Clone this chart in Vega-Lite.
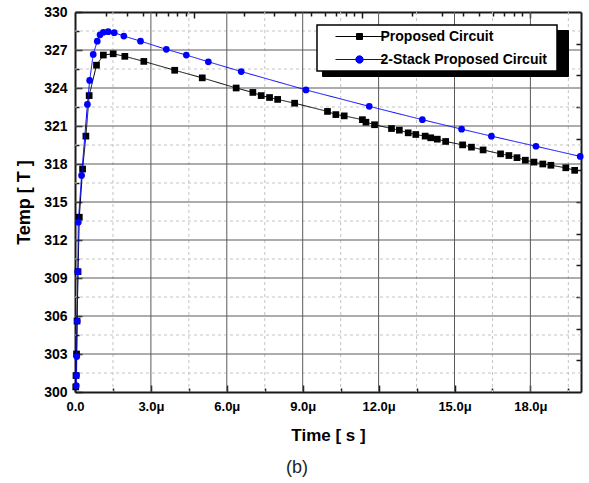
{
  "$schema": "https://vega.github.io/schema/vega-lite/v6.json",
  "width": 506,
  "height": 380,
  "autosize": {"type": "none"},
  "padding": {"left": 75, "top": 12, "right": 8, "bottom": 91},
  "background": "white",
  "config": {
    "view": {"stroke": null},
    "font": "Liberation Sans",
    "axis": {"labelColor": "#000000", "titleColor": "#000000", "tickColor": "#1a1a1a", "domainColor": "#1a1a1a", "domainWidth": 2, "tickWidth": 1.5, "labelFlush": false, "grid": false}
  },
  "title": {"text": "(b)", "orient": "bottom", "anchor": "middle", "dx": -31, "offset": 16, "fontSize": 18, "fontWeight": "normal", "font": "Liberation Sans", "color": "#222222"},
  "datasets": {
    "gridlines": [
      {"axis": "x", "v": 1.5, "kind": "minor"}, {"axis": "x", "v": 3, "kind": "major"}, {"axis": "x", "v": 4.5, "kind": "minor"},
      {"axis": "x", "v": 6, "kind": "major"}, {"axis": "x", "v": 7.5, "kind": "minor"}, {"axis": "x", "v": 9, "kind": "major"},
      {"axis": "x", "v": 10.5, "kind": "minor"}, {"axis": "x", "v": 12, "kind": "major"}, {"axis": "x", "v": 13.5, "kind": "minor"},
      {"axis": "x", "v": 15, "kind": "major"}, {"axis": "x", "v": 16.5, "kind": "minor"}, {"axis": "x", "v": 18, "kind": "major"},
      {"axis": "x", "v": 19.5, "kind": "minor"},
      {"axis": "y", "v": 301.5, "kind": "minor"}, {"axis": "y", "v": 303, "kind": "major"}, {"axis": "y", "v": 304.5, "kind": "minor"},
      {"axis": "y", "v": 306, "kind": "major"}, {"axis": "y", "v": 307.5, "kind": "minor"}, {"axis": "y", "v": 309, "kind": "major"},
      {"axis": "y", "v": 310.5, "kind": "minor"}, {"axis": "y", "v": 312, "kind": "major"}, {"axis": "y", "v": 313.5, "kind": "minor"},
      {"axis": "y", "v": 315, "kind": "major"}, {"axis": "y", "v": 316.5, "kind": "minor"}, {"axis": "y", "v": 318, "kind": "major"},
      {"axis": "y", "v": 319.5, "kind": "minor"}, {"axis": "y", "v": 321, "kind": "major"}, {"axis": "y", "v": 322.5, "kind": "minor"},
      {"axis": "y", "v": 324, "kind": "major"}, {"axis": "y", "v": 325.5, "kind": "minor"}, {"axis": "y", "v": 327, "kind": "major"},
      {"axis": "y", "v": 328.5, "kind": "minor"}
    ],
    "curves": [
      {"series": "Proposed Circuit", "t": 0.03, "temp": 300.4},
      {"series": "Proposed Circuit", "t": 0.04, "temp": 301.3},
      {"series": "Proposed Circuit", "t": 0.06, "temp": 303.0},
      {"series": "Proposed Circuit", "t": 0.08, "temp": 305.6},
      {"series": "Proposed Circuit", "t": 0.12, "temp": 309.5},
      {"series": "Proposed Circuit", "t": 0.17, "temp": 313.8},
      {"series": "Proposed Circuit", "t": 0.30, "temp": 317.6},
      {"series": "Proposed Circuit", "t": 0.43, "temp": 320.2},
      {"series": "Proposed Circuit", "t": 0.56, "temp": 323.4},
      {"series": "Proposed Circuit", "t": 0.85, "temp": 325.8},
      {"series": "Proposed Circuit", "t": 1.12, "temp": 326.6},
      {"series": "Proposed Circuit", "t": 1.51, "temp": 326.7},
      {"series": "Proposed Circuit", "t": 1.97, "temp": 326.5},
      {"series": "Proposed Circuit", "t": 2.72, "temp": 326.1},
      {"series": "Proposed Circuit", "t": 3.94, "temp": 325.4},
      {"series": "Proposed Circuit", "t": 5.03, "temp": 324.8},
      {"series": "Proposed Circuit", "t": 6.37, "temp": 324.0},
      {"series": "Proposed Circuit", "t": 7.03, "temp": 323.65},
      {"series": "Proposed Circuit", "t": 7.36, "temp": 323.4},
      {"series": "Proposed Circuit", "t": 7.69, "temp": 323.25},
      {"series": "Proposed Circuit", "t": 8.01, "temp": 323.1},
      {"series": "Proposed Circuit", "t": 8.68, "temp": 322.8},
      {"series": "Proposed Circuit", "t": 9.98, "temp": 322.15},
      {"series": "Proposed Circuit", "t": 10.31, "temp": 321.9},
      {"series": "Proposed Circuit", "t": 10.64, "temp": 321.8},
      {"series": "Proposed Circuit", "t": 11.36, "temp": 321.5},
      {"series": "Proposed Circuit", "t": 11.50, "temp": 321.3},
      {"series": "Proposed Circuit", "t": 11.84, "temp": 321.1},
      {"series": "Proposed Circuit", "t": 12.51, "temp": 320.8},
      {"series": "Proposed Circuit", "t": 12.82, "temp": 320.67},
      {"series": "Proposed Circuit", "t": 13.17, "temp": 320.46},
      {"series": "Proposed Circuit", "t": 13.47, "temp": 320.33},
      {"series": "Proposed Circuit", "t": 13.84, "temp": 320.2},
      {"series": "Proposed Circuit", "t": 14.06, "temp": 320.07},
      {"series": "Proposed Circuit", "t": 14.32, "temp": 319.96},
      {"series": "Proposed Circuit", "t": 14.65, "temp": 319.78},
      {"series": "Proposed Circuit", "t": 15.32, "temp": 319.51},
      {"series": "Proposed Circuit", "t": 15.67, "temp": 319.33},
      {"series": "Proposed Circuit", "t": 16.13, "temp": 319.11},
      {"series": "Proposed Circuit", "t": 16.82, "temp": 318.8},
      {"series": "Proposed Circuit", "t": 17.15, "temp": 318.67},
      {"series": "Proposed Circuit", "t": 17.47, "temp": 318.5},
      {"series": "Proposed Circuit", "t": 17.80, "temp": 318.3},
      {"series": "Proposed Circuit", "t": 18.14, "temp": 318.15},
      {"series": "Proposed Circuit", "t": 18.49, "temp": 318.0},
      {"series": "Proposed Circuit", "t": 18.81, "temp": 317.9},
      {"series": "Proposed Circuit", "t": 19.40, "temp": 317.7},
      {"series": "Proposed Circuit", "t": 19.75, "temp": 317.5},
      {"series": "2-Stack Proposed Circuit", "t": 0.05, "temp": 300.5},
      {"series": "2-Stack Proposed Circuit", "t": 0.06, "temp": 301.3},
      {"series": "2-Stack Proposed Circuit", "t": 0.07, "temp": 302.8},
      {"series": "2-Stack Proposed Circuit", "t": 0.09, "temp": 305.6},
      {"series": "2-Stack Proposed Circuit", "t": 0.11, "temp": 309.5},
      {"series": "2-Stack Proposed Circuit", "t": 0.13, "temp": 313.4},
      {"series": "2-Stack Proposed Circuit", "t": 0.26, "temp": 317.1},
      {"series": "2-Stack Proposed Circuit", "t": 0.49, "temp": 322.7},
      {"series": "2-Stack Proposed Circuit", "t": 0.58, "temp": 324.6},
      {"series": "2-Stack Proposed Circuit", "t": 0.72, "temp": 326.65},
      {"series": "2-Stack Proposed Circuit", "t": 0.88, "temp": 327.7},
      {"series": "2-Stack Proposed Circuit", "t": 0.99, "temp": 328.2},
      {"series": "2-Stack Proposed Circuit", "t": 1.12, "temp": 328.4},
      {"series": "2-Stack Proposed Circuit", "t": 1.31, "temp": 328.45},
      {"series": "2-Stack Proposed Circuit", "t": 1.55, "temp": 328.37},
      {"series": "2-Stack Proposed Circuit", "t": 1.93, "temp": 328.1},
      {"series": "2-Stack Proposed Circuit", "t": 2.59, "temp": 327.7},
      {"series": "2-Stack Proposed Circuit", "t": 3.61, "temp": 327.05},
      {"series": "2-Stack Proposed Circuit", "t": 4.40, "temp": 326.6},
      {"series": "2-Stack Proposed Circuit", "t": 5.27, "temp": 326.07},
      {"series": "2-Stack Proposed Circuit", "t": 6.57, "temp": 325.3},
      {"series": "2-Stack Proposed Circuit", "t": 9.13, "temp": 323.85},
      {"series": "2-Stack Proposed Circuit", "t": 11.63, "temp": 322.55},
      {"series": "2-Stack Proposed Circuit", "t": 13.73, "temp": 321.5},
      {"series": "2-Stack Proposed Circuit", "t": 15.28, "temp": 320.75},
      {"series": "2-Stack Proposed Circuit", "t": 16.46, "temp": 320.2},
      {"series": "2-Stack Proposed Circuit", "t": 18.22, "temp": 319.4},
      {"series": "2-Stack Proposed Circuit", "t": 19.97, "temp": 318.6}
    ]
  },
  "layer": [
    {
      "data": {"name": "gridlines"},
      "transform": [{"filter": "datum.axis === 'x' && datum.kind === 'minor'"}],
      "mark": {"type": "rule", "strokeWidth": 1, "color": "#c4c4c4", "strokeDash": [3, 3]},
      "encoding": {
        "x": {"field": "v", "type": "quantitative", "axis": null}
      }
    },
    {
      "data": {"name": "gridlines"},
      "transform": [{"filter": "datum.axis === 'y' && datum.kind === 'minor'"}],
      "mark": {"type": "rule", "strokeWidth": 1, "color": "#c4c4c4", "strokeDash": [3, 3]},
      "encoding": {
        "y": {"field": "v", "type": "quantitative", "axis": null}
      }
    },
    {
      "data": {"name": "gridlines"},
      "transform": [{"filter": "datum.axis === 'x' && datum.kind === 'major'"}],
      "mark": {"type": "rule", "strokeWidth": 1, "color": "#5a5a5a"},
      "encoding": {
        "x": {"field": "v", "type": "quantitative", "axis": null}
      }
    },
    {
      "data": {"name": "gridlines"},
      "transform": [{"filter": "datum.axis === 'y' && datum.kind === 'major'"}],
      "mark": {"type": "rule", "strokeWidth": 1, "color": "#5a5a5a"},
      "encoding": {
        "y": {"field": "v", "type": "quantitative", "axis": null}
      }
    },
    {
      "data": {"name": "curves"},
      "transform": [{"filter": "datum.series === 'Proposed Circuit'"}],
      "mark": {"type": "line", "strokeWidth": 1},
      "encoding": {
        "x": {"field": "t", "type": "quantitative", "scale": {"domain": [0, 20], "nice": false, "zero": false},
          "axis": {"orient": "bottom", "values": [0, 3, 6, 9, 12, 15, 18],
            "labelExpr": "datum.value === 0 ? '0.0' : format(datum.value, '.1f') + 'μ'",
            "labelFont": "Liberation Sans", "labelFontSize": 13, "labelFontWeight": "bold", "labelPadding": 15,
            "tickSize": -7, "grid": false, "domain": true,
            "title": "Time [ s ]", "titleFont": "Liberation Sans", "titleFontSize": 17, "titleFontWeight": "bold", "titlePadding": 14}},
        "y": {"field": "temp", "type": "quantitative", "scale": {"domain": [300, 330], "nice": false, "zero": false},
          "axis": {"orient": "left", "values": [300, 303, 306, 309, 312, 315, 318, 321, 324, 327, 330],
            "labelFont": "Liberation Sans", "labelFontSize": 14, "labelFontWeight": "bold", "labelPadding": 15,
            "tickSize": -7, "grid": false, "domain": true,
            "title": "Temp [ T ]", "titleFont": "Liberation Sans", "titleFontSize": 18, "titleFontWeight": "bold", "titlePadding": 10}},
        "color": {"field": "series", "type": "nominal", "scale": {"domain": ["Proposed Circuit", "2-Stack Proposed Circuit"], "range": ["#000000", "#0000ff"]},
          "legend": {"title": " ", "titleOrient": "right", "titlePadding": 6, "titleFontSize": 14, "orient": "none", "legendX": 242, "legendY": 13, "fillColor": "#ffffff", "strokeColor": "#000000", "padding": 4.5, "symbolSize": 100, "symbolOffset": 31, "labelOffset": 14, "labelLimit": 400, "labelFont": "Liberation Sans", "labelFontSize": 14, "labelFontWeight": "bold", "labelColor": "#000000", "rowPadding": 9, "zindex": 2,
            "encode": {
              "legend": {"update": {"strokeWidth": {"value": 1.5}}},
              "symbols": {"update": {
                "shape": {"signal": "datum.value === 'Proposed Circuit' ? 'M-4.8,0L4.8,0M-0.6,-0.6L0.6,-0.6L0.6,0.6L-0.6,0.6Z' : 'M-4.8,0L4.8,0M0.74,0A0.74,0.74,0,1,1,-0.74,0A0.74,0.74,0,1,1,0.74,0Z'"},
                "fill": {"signal": "datum.value === 'Proposed Circuit' ? '#000000' : '#0000ff'"},
                "stroke": {"signal": "datum.value === 'Proposed Circuit' ? '#000000' : '#0000ff'"},
                "strokeWidth": {"value": 1},
                "strokeDash": {"value": []},
                "size": {"value": 100},
                "opacity": {"value": 1}
              }}
            }}},
        "strokeDash": {"field": "series", "type": "nominal", "scale": {"range": [[1, 0], [1, 0]]},
          "legend": {"title": " ", "titleOrient": "right", "titlePadding": 6, "titleFontSize": 14, "titleColor": "#000000", "orient": "none", "legendX": 247, "legendY": 18, "fillColor": "#000000", "strokeColor": "#000000", "padding": 4.5, "symbolSize": 100, "symbolOffset": 216, "labelOffset": 0, "labelExpr": "''", "labelFontSize": 14, "rowPadding": 9, "zindex": 1, "symbolStrokeColor": "#000000", "symbolFillColor": "#000000"}}
      }
    },
    {
      "data": {"name": "curves"},
      "transform": [{"filter": "datum.series === 'Proposed Circuit'"}],
      "mark": {"type": "point", "shape": "square", "filled": true, "size": 45, "opacity": 1},
      "encoding": {
        "x": {"field": "t", "type": "quantitative",
          "axis": {"orient": "bottom", "values": [1.5, 4.5, 7.5, 10.5, 13.5, 16.5, 19.5], "labels": false, "tickSize": -4, "grid": false, "domain": false, "title": null}},
        "y": {"field": "temp", "type": "quantitative",
          "axis": {"orient": "left", "values": [301.5, 304.5, 307.5, 310.5, 313.5, 316.5, 319.5, 322.5, 325.5, 328.5], "labels": false, "tickSize": -4, "grid": false, "domain": false, "title": null}},
        "color": {"field": "series", "type": "nominal", "scale": {"domain": ["Proposed Circuit", "2-Stack Proposed Circuit"], "range": ["#000000", "#0000ff"]}}
      }
    },
    {
      "data": {"name": "curves"},
      "transform": [{"filter": "datum.series === '2-Stack Proposed Circuit'"}],
      "mark": {"type": "line", "strokeWidth": 1},
      "encoding": {
        "x": {"field": "t", "type": "quantitative",
          "axis": {"orient": "top", "values": [4.694, 11.337, 17.98], "labels": false, "tickSize": -6, "grid": false, "domain": true, "title": null}},
        "y": {"field": "temp", "type": "quantitative",
          "axis": {"orient": "right", "values": [302.5, 305, 307.5, 310, 312.5, 315, 317.5, 320, 322.5, 325, 327.5], "labels": false, "tickSize": -5, "grid": false, "domain": true, "title": null}},
        "color": {"field": "series", "type": "nominal", "scale": {"domain": ["Proposed Circuit", "2-Stack Proposed Circuit"], "range": ["#000000", "#0000ff"]}},
        "strokeDash": {"field": "series", "type": "nominal"}
      }
    },
    {
      "data": {"name": "curves"},
      "transform": [{"filter": "datum.series === '2-Stack Proposed Circuit'"}],
      "mark": {"type": "point", "shape": "circle", "filled": true, "size": 45, "opacity": 1},
      "encoding": {
        "x": {"field": "t", "type": "quantitative",
          "axis": {"orient": "top", "values": [1.223, 2.051, 2.694, 3.219, 3.665, 4.051, 4.391, 6.694, 7.866, 8.694, 9.337, 9.862, 10.308, 10.694, 11.034, 13.337, 14.509, 15.337, 15.98, 16.505, 16.951, 17.337, 17.677], "labels": false, "tickSize": -4, "grid": false, "domain": false, "title": null}},
        "y": {"field": "temp", "type": "quantitative", "axis": null},
        "color": {"field": "series", "type": "nominal", "scale": {"domain": ["Proposed Circuit", "2-Stack Proposed Circuit"], "range": ["#000000", "#0000ff"]}}
      }
    }
  ],
  "resolve": {"axis": {"x": "independent", "y": "independent"}}
}
